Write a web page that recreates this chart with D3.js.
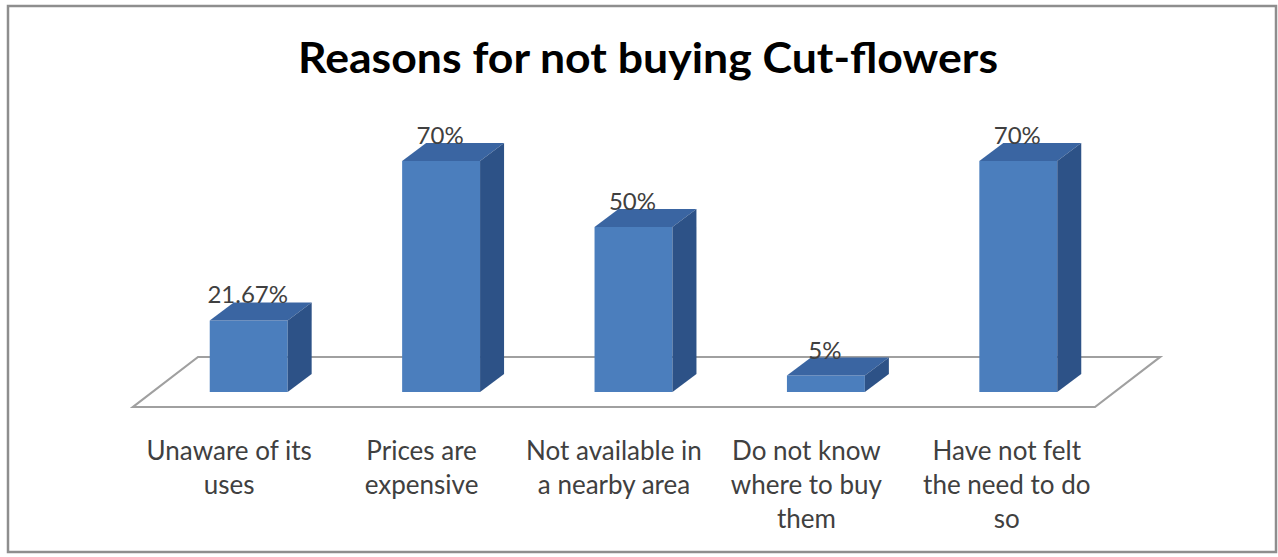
<!DOCTYPE html>
<html>
<head>
<meta charset="utf-8">
<script src="https://cdn.jsdelivr.net/npm/d3@7"></script>
<style>
  html, body { margin: 0; padding: 0; background: #ffffff; }
  svg { display: block; }
</style>
</head>
<body>
<svg id="chart" width="1278" height="557"></svg>
<script>
// Survey results: reasons respondents gave for not buying cut flowers
const title = "Reasons for not buying Cut-flowers";
const categories = [
  "Unaware of its uses",
  "Prices are expensive",
  "Not available in a nearby area",
  "Do not know where to buy them",
  "Have not felt the need to do so"
];
const categoryLines = [
  ["Unaware of its", "uses"],
  ["Prices are", "expensive"],
  ["Not available in", "a nearby area"],
  ["Do not know", "where to buy", "them"],
  ["Have not felt", "the need to do", "so"]
];
const values = [21.67, 70, 50, 5, 70];
const valueLabels = ["21.67%", "70%", "50%", "5%", "70%"];

const svg = d3.select("#chart");

// Chart frame
svg.append("rect")
  .attr("x", 8).attr("y", 6).attr("width", 1268).attr("height", 546)
  .attr("fill", "#ffffff").attr("stroke", "#8e8e8e").attr("stroke-width", 2.5);

// Title
svg.append("text")
  .attr("x", 648).attr("y", 73)
  .attr("text-anchor", "middle")
  .attr("font-family", "Lato, 'Liberation Sans', sans-serif")
  .attr("font-weight", "bold")
  .attr("font-size", 42)
  .attr("textLength", 700)
  .attr("lengthAdjust", "spacingAndGlyphs")
  .attr("fill", "#000000")
  .text(title);

// 3D floor geometry
const floorFrontY = 407, floorBackY = 357;
const floorLeft = 133, floorRight = 1095;
const floorDepthX = 65;
const barDepthX = 24, barDepthY = -18;
const barBaseY = 392;
// horizontal shift of the bar row relative to the floor front edge
const rowShift = floorDepthX * (floorFrontY - barBaseY) / (floorFrontY - floorBackY);

const xFront = d3.scaleBand().domain(categories).range([floorLeft, floorRight]);
const xBars = d3.scaleBand().domain(categories)
  .range([floorLeft + rowShift, floorRight + rowShift]);
const barWidth = xBars.bandwidth() * 0.405;

const h = d3.scaleLinear().domain([0, 80]).range([0, 264]);

// Floor
const floorPts = [
  [floorLeft, floorFrontY],
  [floorRight, floorFrontY],
  [floorRight + floorDepthX, floorBackY],
  [floorLeft + floorDepthX, floorBackY]
];
svg.append("polygon")
  .attr("points", floorPts.map(p => p.join(",")).join(" "))
  .attr("fill", "#ffffff")
  .attr("stroke", "#a0a0a0")
  .attr("stroke-width", 2.2);

const colors = { front: "#4b7ebd", top: "#3a65a2", side: "#2d5287" };

const bars = svg.append("g").selectAll("g")
  .data(categories.map((c, i) => ({ c, v: values[i], label: valueLabels[i] })))
  .join("g");

bars.each(function(d) {
  const g = d3.select(this);
  const cx = xBars(d.c) + xBars.bandwidth() / 2;
  const x0 = cx - barWidth / 2, x1 = cx + barWidth / 2;
  const yb = barBaseY, yt = barBaseY - h(d.v);
  const poly = pts => pts.map(p => p.join(",")).join(" ");
  g.append("polygon")
    .attr("points", poly([[x0, yt], [x1, yt], [x1, yb], [x0, yb]]))
    .attr("fill", colors.front);
  g.append("polygon")
    .attr("points", poly([[x0, yt], [x1, yt], [x1 + barDepthX, yt + barDepthY], [x0 + barDepthX, yt + barDepthY]]))
    .attr("fill", colors.top);
  g.append("polygon")
    .attr("points", poly([[x1, yt], [x1, yb], [x1 + barDepthX, yb + barDepthY], [x1 + barDepthX, yt + barDepthY]]))
    .attr("fill", colors.side);
  g.append("text")
    .attr("x", cx - 1)
    .attr("y", yt + barDepthY + 1)
    .attr("text-anchor", "middle")
    .attr("font-family", "Lato, 'Liberation Sans', sans-serif")
    .attr("font-size", 24)
    .attr("fill", "#404040")
    .text(d.label);
});

// Category labels along the front edge of the floor
const catG = svg.append("g")
  .attr("font-family", "Lato, 'Liberation Sans', sans-serif")
  .attr("font-size", 26)
  .attr("fill", "#404040")
  .attr("text-anchor", "middle");

categories.forEach((c, i) => {
  const t = catG.append("text")
    .attr("x", xFront(c) + xFront.bandwidth() / 2 + (i === 4 ? 8 : 0))
    .attr("y", 460);
  categoryLines[i].forEach((line, j) => {
    t.append("tspan")
      .attr("x", xFront(c) + xFront.bandwidth() / 2 + (i === 4 ? 8 : 0))
      .attr("dy", j === 0 ? 0 : 34)
      .text(line);
  });
});
</script>
</body>
</html>
